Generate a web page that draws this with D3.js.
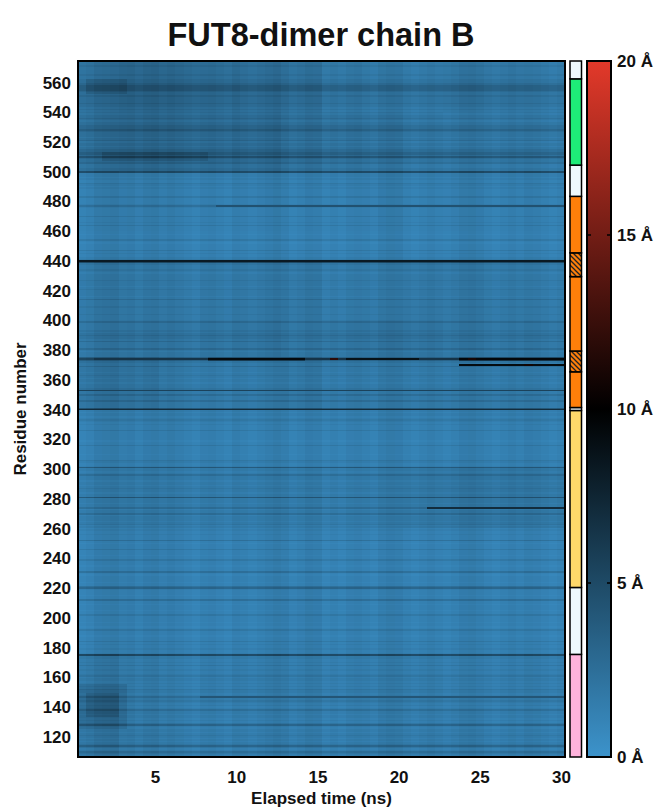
<!DOCTYPE html>
<html>
<head>
<meta charset="utf-8">
<script src="https://cdn.jsdelivr.net/npm/d3@7"></script>
<style>
body { margin: 0; background: #fff; }
text { font-family: "Liberation Sans", Arial, sans-serif; font-weight: bold; fill: #111; }
</style>
</head>
<body>
<svg id="chart" width="661" height="812"></svg>
<script>
// time frames (ns)
var times = [0.5, 1, 1.5, 2, 2.5, 3, 3.5, 4, 4.5, 5, 5.5, 6, 6.5, 7, 7.5, 8, 8.5, 9, 9.5, 10,
    10.5, 11, 11.5, 12, 12.5, 13, 13.5, 14, 14.5, 15, 15.5, 16, 16.5, 17, 17.5, 18, 18.5, 19, 19.5, 20,
    20.5, 21, 21.5, 22, 22.5, 23, 23.5, 24, 24.5, 25, 25.5, 26, 26.5, 27, 27.5, 28, 28.5, 29, 29.5, 30];
var firstResidue = 107, lastResidue = 574;

// darkness level of every residue, 20 residues per line starting at 107
var residueLevel = [
    "33453246432323432332", // 107-126
    "36423233233532323433", // 127-146
    "53233423232332432232", // 147-166
    "24232233832232232422", // 167-186
    "21222421221222242212", // 187-206
    "22122522122236522122", // 207-226
    "22125222122242212224", // 227-246
    "22212522232232324323", // 247-266
    "33253325332333733233", // 267-286
    "43233233353233732234", // 287-306
    "22212222242212222224", // 307-326
    "22232343233233733335", // 327-346
    "33353364333233234323", // 347-366
    "33533468633323533335", // 367-386
    "34454343333353333433", // 387-406
    "33433335323333432333", // 407-426
    "43333234333489432232", // 427-446
    "42222124222122222423", // 447-466
    "22242222235322224222", // 467-486
    "22323422323338443335", // 487-506
    "44575665543443543444", // 507-526
    "56555443454434343445", // 527-546
    "44445445666654443343", // 547-566
    "33334333"              // 567-574
];
// Å for each darkness level
var levelValue = [0.3, 0.5, 0.7, 1.0, 1.4, 1.9, 2.6, 3.4, 4.3, 5.2];

// extra Å per residue band and per 2.5 ns block
var regionShade = [
    [541, 574, [1.1, 1.6, 1.5, 1.3, 1.2, 1.0, 0.6, 0.5, 0.4, 0.7, 0.6, 0.4]],
    [501, 540, [1.0, 1.4, 1.3, 1.2, 1.2, 0.9, 0.7, 0.6, 0.4, 0.4, 0.4, 0.3]],
    [461, 500, [0.4, 0.4, 0.3, 0.3, 0.4, 0.3, 0.3, 0.4, 0.3, 0.4, 0.3, 0.3]],
    [441, 460, [0.3, 0.3, 0.2, 0.2, 0.3, 0.2, 0.2, 0.3, 0.2, 0.3, 0.2, 0.2]],
    [401, 440, [0.6, 0.5, 0.4, 0.5, 0.6, 0.6, 0.4, 0.5, 0.6, 0.6, 0.5, 0.4]],
    [376, 400, [0.7, 0.7, 0.6, 0.7, 0.8, 0.7, 0.7, 0.8, 0.8, 0.7, 0.6, 0.6]],
    [341, 375, [0.9, 0.8, 0.5, 0.4, 0.5, 0.7, 0.5, 0.5, 0.5, 0.5, 0.5, 0.4]],
    [301, 340, [0.3, 0.3, 0.3, 0.3, 0.3, 0.3, 0.3, 0.3, 0.3, 0.3, 0.3, 0.3]],
    [261, 300, [0.5, 0.5, 0.4, 0.4, 0.5, 0.5, 0.4, 0.5, 0.7, 0.8, 0.8, 0.7]],
    [221, 260, [0.3, 0.3, 0.2, 0.2, 0.3, 0.3, 0.2, 0.2, 0.2, 0.3, 0.2, 0.2]],
    [176, 220, [0.3, 0.3, 0.2, 0.2, 0.3, 0.4, 0.3, 0.3, 0.3, 0.3, 0.3, 0.2]],
    [141, 175, [0.8, 0.5, 0.3, 0.4, 0.5, 0.5, 0.4, 0.5, 0.5, 0.4, 0.4, 0.4]],
    [107, 140, [0.9, 0.5, 0.3, 0.3, 0.4, 0.4, 0.3, 0.4, 0.4, 0.4, 0.3, 0.3]]
];

// extra Å of each frame
var frameShift = [0.0, 0.2, 0.6, 0.7, 0.8, 0.5, 0.6, 0.3, 0.6, 0.7, 0.5, 0.7, 0.5, 0.3, 0.1, 0.4, 0.5, 0.3, 0.1, 0.5,
    0.3, 0.1, 0.3, 0.5, 0.7, 0.5, 0.1, 0.3, 0.6, 0.5, 0.1, 0.3, 0.1, 0.4, 0.5, 0.3, 0.1, 0.5, 0.7, 0.6,
    0.3, 0.1, 0.3, 0.5, 0.3, 0.1, 0.3, 0.6, 0.7, 0.5, 0.3, 0.1, 0.3, 0.5, 0.3, 0.6, 0.5, 0.3, 0.1, 0.3];

// darker spots (residue from, to, time from, to, extra Å)
var patches = [
    [126, 155, 0.5, 3, 0.9], [134, 149, 1, 2.5, 0.8], [553, 562, 1, 3, 0.8], [508, 513, 2, 8, 0.8]
];

// strong streaks (residue, time from, to, Å)
var streaks = [
    [440, 0.5, 30, 8.3], [439, 0.5, 30, 5.0],
    [375, 8.5, 14, 4.5], [375, 24, 30, 5],
    [374, 1.5, 30, 6.5], [374, 8.5, 14, 9.3], [374, 16, 16, 12], [374, 17, 21, 8.8],
    [374, 24, 30, 9.5], [374, 24.5, 24.5, 11], [373, 8.5, 14, 6], [373, 24, 30, 6.5],
    [370, 24, 30, 9.2], [370, 28, 28, 10.8], [353, 0.5, 30, 5.5], [340, 0.5, 30, 7.0],
    [477, 9, 30, 4.5], [274, 22, 30, 7.0], [147, 8, 30, 4.2]
];

// domain strip (residue from, to, kind)
var domains = [
    [107, 175, "pink"], [176, 220, "blank"], [221, 339, "yellow"], [340, 341, "blank"],
    [342, 365, "orange"], [366, 379, "hatch"], [380, 429, "orange"], [430, 445, "hatch"],
    [446, 483, "orange"], [484, 504, "blank"], [505, 562, "green"], [563, 574, "blank"]
];
var domainFill = { pink: "#ffb3dc", blank: "#eef9fd", yellow: "#ffd96a", orange: "#ff7f0a", green: "#1eec78", hatch: "url(#hatch)" };

var xTicks = [5, 10, 15, 20, 25, 30];
var yTicks = [120, 140, 160, 180, 200, 220, 240, 260, 280, 300, 320, 340, 360, 380, 400, 420, 440, 460, 480, 500, 520, 540, 560];
var colorTicks = [0, 5, 10, 15, 20];

var svg = d3.select("#chart");
var plotLeft = 78, plotRight = 565, plotTop = 61, plotBottom = 757;

var x = d3.scaleLinear().domain([0.25, 30.25]).range([plotLeft, plotRight]);
var y = d3.scaleLinear().domain([firstResidue - 0.5, lastResidue + 0.5]).range([plotBottom, plotTop]);
var color = d3.scaleLinear().domain([0, 10, 20]).range(["#3c93cb", "#000000", "#e3392a"]).clamp(true);

var levels = residueLevel.join("");

function regionOf(r, j) {
    for (var i = 0; i < regionShade.length; i++) {
        var b = regionShade[i];
        if (r >= b[0] && r <= b[1]) return b[2][Math.floor(j / 5)];
    }
    return 0;
}

var cells = [];
for (var r = firstResidue; r <= lastResidue; r++) {
    var base = levelValue[+levels[r - firstResidue]];
    times.forEach(function (t, j) {
        var v = base + regionOf(r, j) + frameShift[j];
        patches.forEach(function (p) {
            if (r >= p[0] && r <= p[1] && t >= p[2] && t <= p[3]) v += p[4];
        });
        streaks.forEach(function (s) {
            if (r === s[0] && t >= s[1] && t <= s[2]) v = Math.max(v, s[3]);
        });
        cells.push({ r: r, t: t, v: v });
    });
}

var defs = svg.append("defs");
var hatch = defs.append("pattern")
    .attr("id", "hatch")
    .attr("patternUnits", "userSpaceOnUse")
    .attr("width", 5).attr("height", 5);
hatch.append("rect").attr("width", 5).attr("height", 5).attr("fill", "#ff7f0a");
hatch.append("path")
    .attr("d", "M0,0L5,5M-1,4L1,6M4,-1L6,1")
    .attr("stroke", "#222").attr("stroke-width", 1.3);

var grad = defs.append("linearGradient")
    .attr("id", "cbar")
    .attr("x1", 0).attr("y1", 1).attr("x2", 0).attr("y2", 0);
[0, 5, 10, 15, 20].forEach(function (v) {
    grad.append("stop").attr("offset", v / 20).attr("stop-color", color(v));
});

// heatmap
svg.append("g")
    .attr("shape-rendering", "crispEdges")
    .selectAll("rect")
    .data(cells)
    .enter().append("rect")
    .attr("x", function (d) { return x(d.t - 0.25); })
    .attr("y", function (d) { return y(d.r + 0.5); })
    .attr("width", function (d) { return x(d.t + 0.25) - x(d.t - 0.25); })
    .attr("height", function (d) { return y(d.r - 0.5) - y(d.r + 0.5); })
    .attr("fill", function (d) { return color(d.v); });

svg.append("rect")
    .attr("x", plotLeft).attr("y", plotTop)
    .attr("width", plotRight - plotLeft).attr("height", plotBottom - plotTop)
    .attr("fill", "none").attr("stroke", "#000").attr("stroke-width", 2);

// axes
var xAxis = svg.append("g")
    .attr("transform", "translate(0," + (plotBottom + 6) + ")")
    .call(d3.axisBottom(x).tickValues(xTicks).tickSize(0).tickPadding(8));
var yAxis = svg.append("g")
    .attr("transform", "translate(" + (plotLeft - 6) + ",0)")
    .call(d3.axisLeft(y).tickValues(yTicks).tickSize(0).tickPadding(1));
[xAxis, yAxis].forEach(function (a) {
    a.select(".domain").remove();
    a.selectAll("text").attr("font-size", 17).attr("font-family", null);
});

svg.append("text")
    .attr("x", (plotLeft + plotRight) / 2).attr("y", 804)
    .attr("text-anchor", "middle").attr("font-size", 17)
    .text("Elapsed time (ns)");
svg.append("text")
    .attr("transform", "translate(26," + (plotTop + plotBottom) / 2 + ")rotate(-90)")
    .attr("text-anchor", "middle").attr("font-size", 17)
    .text("Residue number");
svg.append("text")
    .attr("x", 321).attr("y", 46)
    .attr("text-anchor", "middle").attr("font-size", 32.5)
    .text("FUT8-dimer chain B");

// domain strip
svg.append("g")
    .selectAll("rect")
    .data(domains)
    .enter().append("rect")
    .attr("x", 570).attr("width", 11.5)
    .attr("y", function (d) { return y(d[1] + 0.5); })
    .attr("height", function (d) { return y(d[0] - 0.5) - y(d[1] + 0.5); })
    .attr("fill", function (d) { return domainFill[d[2]]; })
    .attr("stroke", "#000").attr("stroke-width", 1.5);

// colour bar
var cb = d3.scaleLinear().domain([0, 20]).range([plotBottom, plotTop]);
svg.append("rect")
    .attr("x", 587).attr("y", plotTop)
    .attr("width", 24).attr("height", plotBottom - plotTop)
    .attr("fill", "url(#cbar)").attr("stroke", "#000").attr("stroke-width", 2);
svg.append("g")
    .selectAll("path")
    .data([5, 10, 15])
    .enter().append("path")
    .attr("d", function (d) { return "M588," + cb(d) + "h3M607," + cb(d) + "h3"; })
    .attr("stroke", "#000").attr("stroke-width", 1.5);
svg.append("g")
    .selectAll("text")
    .data(colorTicks)
    .enter().append("text")
    .attr("x", 617).attr("y", function (d) { return cb(d); })
    .attr("dy", "0.35em").attr("font-size", 17)
    .text(function (d) { return d + " Å"; });
</script>
</body>
</html>
